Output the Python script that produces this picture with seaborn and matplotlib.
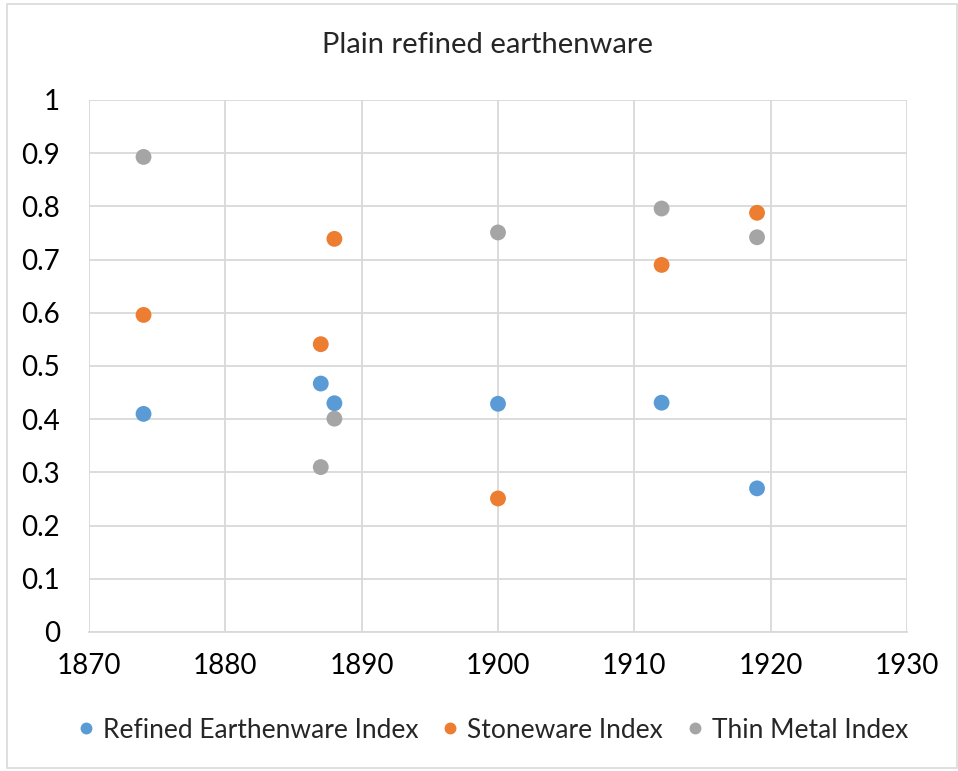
import matplotlib
matplotlib.use("Agg")
import matplotlib.pyplot as plt
import seaborn as sns
import pandas as pd
from matplotlib.patches import Rectangle

years = [1874, 1887, 1888, 1900, 1912, 1919]
refined_earthenware = [0.41, 0.467, 0.43, 0.429, 0.431, 0.27]
stoneware = [0.596, 0.541, 0.739, 0.251, 0.69, 0.788]
thin_metal = [0.893, 0.31, 0.401, 0.751, 0.796, 0.742]
series_names = ["Refined Earthenware Index", "Stoneware Index", "Thin Metal Index"]
colors = ["#5b9bd5", "#ed7d31", "#a5a5a5"]

rows = []
for name, vals in zip(series_names, [refined_earthenware, stoneware, thin_metal]):
    for y, v in zip(years, vals):
        rows.append({"Year": y, "Value": v, "Series": name})
df = pd.DataFrame(rows)

sns.set_theme(style="white")
plt.rcParams['font.family'] = ['Lato', 'DejaVu Sans']

fig = plt.figure(figsize=(9.58, 7.71), dpi=100)
ax = fig.add_axes([89/958, 1-632/771, (907-89)/958, (632-100)/771])

sns.scatterplot(data=df, x="Year", y="Value", hue="Series", palette=colors,
                s=130, edgecolor="none", ax=ax, legend=True, zorder=3)

ax.set_xlim(1870, 1930)
ax.set_ylim(0, 1)
ax.set_xticks(range(1870, 1931, 10))
ax.set_yticks([i/10 for i in range(11)])
ax.set_yticklabels(["0", "0.1", "0.2", "0.3", "0.4", "0.5", "0.6", "0.7", "0.8", "0.9", "1"])
ax.grid(True, color="#d9d9d9", linewidth=1.3)
ax.set_axisbelow(True)
for side, sp in ax.spines.items():
    sp.set_visible(False)
ax.spines['bottom'].set_visible(True)
ax.spines['bottom'].set_color("#d9d9d9")
ax.spines['bottom'].set_linewidth(1.3)
ax.tick_params(axis='both', labelsize=20, colors="black", length=0)
ax.tick_params(axis='x', pad=15)
ax.tick_params(axis='y', pad=21)
ax.set_xlabel("")
ax.set_ylabel("")

fig.text(487/958, 1-45/771, "Plain refined earthenware", ha="center", va="center", fontsize=21)

handles, labels = ax.get_legend_handles_labels()
ax.get_legend().remove()
fig.legend(handles, labels, loc="center", bbox_to_anchor=(493/958, 1-730/771), ncol=3,
           frameon=False, fontsize=19, handlelength=0.6, handletextpad=0.35,
           columnspacing=0.9, markerscale=0.75)

fig.patches.append(Rectangle((7/958, 3/771), 950/958, 764/771, transform=fig.transFigure,
                             fill=False, edgecolor="#d9d9d9", linewidth=1.2))

fig.savefig("out.png", dpi=100, facecolor="white")
